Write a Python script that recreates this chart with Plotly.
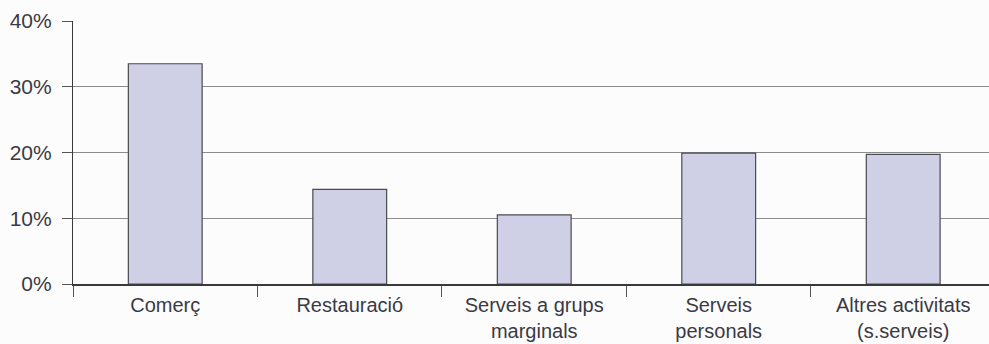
import plotly.graph_objects as go

# Share of activity by sector (%)
categories = [
    "Comerç",
    "Restauració",
    "Serveis a grups<br>marginals",
    "Serveis<br>personals",
    "Altres activitats<br>(s.serveis)",
]
values = [33.5, 14.4, 10.5, 19.9, 19.7]
y_ticks = [0, 10, 20, 30, 40]
y_tick_labels = ["0%", "10%", "20%", "30%", "40%"]

font_family = "Liberation Sans, Arial, sans-serif"
text_color = "#3a3a44"

fig = go.Figure(
    go.Bar(
        x=categories,
        y=values,
        width=0.4,
        marker=dict(color="#cfcfe6", line=dict(color="#4a4a50", width=1.2)),
        hoverinfo="x+y",
    )
)

fig.update_layout(
    width=989,
    height=344,
    margin=dict(l=73, r=0, t=21, b=60),
    paper_bgcolor="#fcfcfc",
    plot_bgcolor="#fcfcfc",
    showlegend=False,
    font=dict(family=font_family, size=20, color=text_color),
    bargap=0.6,
)

fig.update_xaxes(
    range=[-0.5, 4.465],
    automargin=False,
    tickson="boundaries",
    ticks="outside",
    ticklen=11,
    tickwidth=1,
    tickcolor="#555",
    showline=True,
    linecolor="#3a3a3a",
    linewidth=1.5,
    showgrid=False,
    ticklabelstandoff=2,
    tickfont=dict(size=20, color=text_color),
)

fig.update_yaxes(
    range=[0, 40],
    automargin=False,
    tickvals=y_ticks,
    ticktext=y_tick_labels,
    ticks="outside",
    ticklen=10,
    tickwidth=1,
    tickcolor="#555",
    showline=True,
    linecolor="#3a3a3a",
    linewidth=1.2,
    showgrid=True,
    gridcolor="#8c8c8c",
    gridwidth=1,
    zeroline=False,
    ticklabelstandoff=6,
    tickfont=dict(size=21, color=text_color),
)

fig.write_html("out.html")
